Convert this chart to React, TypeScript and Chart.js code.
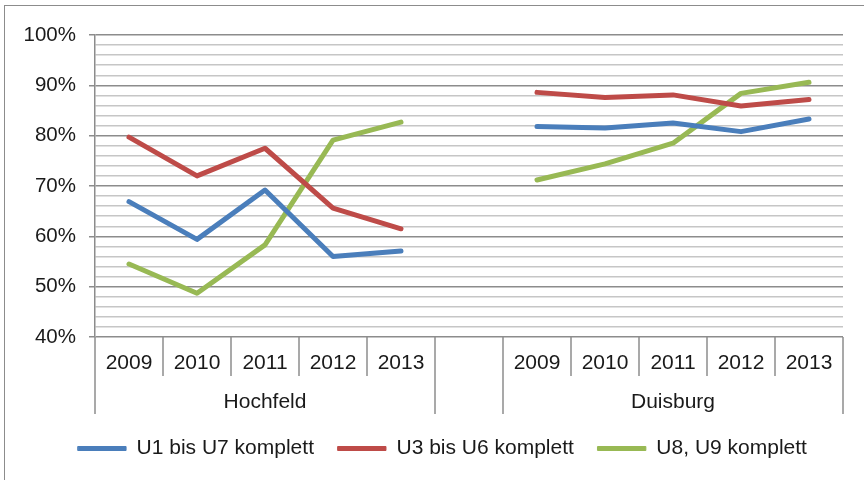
import React, { useEffect, useRef } from "react";
import { Chart, registerables } from "chart.js";

Chart.register(...registerables);

const years = ["2009", "2010", "2011", "2012", "2013"];
const groups = ["Hochfeld", "Duisburg"];
const categories = [...years, "", ...years];

const seriesNames = ["U1 bis U7 komplett", "U3 bis U6 komplett", "U8, U9 komplett"];
const u1u7 = [66.9, 59.4, 69.2, 56.0, 57.1, null, 81.8, 81.5, 82.5, 80.8, 83.3];
const u3u6 = [79.7, 72.0, 77.5, 65.6, 61.5, null, 88.6, 87.6, 88.1, 85.9, 87.2];
const u8u9 = [54.5, 48.7, 58.3, 79.1, 82.7, null, 71.2, 74.4, 78.5, 88.4, 90.6];
const seriesColors = ["#4a7ebb", "#be4b48", "#98b954"];

const yMin = 40;
const yMax = 100;
const yStep = 2;

const FONT = "'Liberation Sans', Arial, sans-serif";
const MAJOR = "#8c8c8c";
const MINOR = "#c6c6c6";
const TEXT = "#1a1a1a";

const groupAxisPlugin = {
  id: "groupAxis",
  afterDraw(chart: any) {
    const { ctx, chartArea } = chart;
    const x = chart.scales.x;
    const n = categories.length;
    const w = (x.right - x.left) / n;
    const bottom = chartArea.bottom;
    ctx.save();
    ctx.strokeStyle = MAJOR;
    ctx.lineWidth = 1.5;
    const groupEdges = [0, 5, 6, 11];
    for (let k = 0; k <= n; k++) {
      const px = x.left + k * w;
      const len = groupEdges.includes(k) ? 77 : 39;
      ctx.beginPath();
      ctx.moveTo(px, bottom);
      ctx.lineTo(px, bottom + len);
      ctx.stroke();
    }
    ctx.fillStyle = TEXT;
    ctx.font = `21px ${FONT}`;
    ctx.textAlign = "center";
    ctx.textBaseline = "middle";
    const spans = [
      [0, 5],
      [6, 11],
    ];
    spans.forEach((s, i) => {
      const cx = x.left + ((s[0] + s[1]) / 2) * w;
      ctx.fillText(groups[i], cx, bottom + 65);
    });
    ctx.restore();
  },
};

export default function App() {
  const ref = useRef<HTMLCanvasElement | null>(null);

  useEffect(() => {
    if (!ref.current) return;
    const data = [u1u7, u3u6, u8u9];
    const chart = new Chart(ref.current, {
      type: "line",
      data: {
        labels: categories,
        datasets: data.map((d, i) => ({
          label: seriesNames[i],
          data: d,
          borderColor: seriesColors[i],
          backgroundColor: seriesColors[i],
          borderWidth: 5,
          pointRadius: 0,
          tension: 0,
          spanGaps: false,
          borderCapStyle: "round",
          borderJoinStyle: "round",
          yAxisID: "y",
        })),
      },
      options: {
        responsive: false,
        animation: false,
        layout: { padding: { top: 35, right: 0, left: 21, bottom: 11 } },
        plugins: {
          tooltip: { enabled: false },
          legend: {
            position: "bottom",
            labels: {
              font: { family: FONT, size: 21 },
              color: TEXT,
              boxWidth: 48,
              boxHeight: 4,
              padding: 24,
              generateLabels: (c: any) =>
                Chart.defaults.plugins.legend.labels
                  .generateLabels(c)
                  .map((l: any, i: number) => ({
                    ...l,
                    lineWidth: 1,
                    fillStyle: seriesColors[i],
                    strokeStyle: seriesColors[i],
                  })),
            },
          },
        },
        scales: {
          x: {
            type: "category",
            offset: true,
            grid: { display: false },
            border: { display: false },
            ticks: {
              font: { family: FONT, size: 21 },
              color: TEXT,
              padding: 6,
              maxRotation: 0,
              autoSkip: false,
            },
            afterFit: (s: any) => {
              s.height = 77;
            },
          },
          y: {
            min: yMin,
            max: yMax,
            grid: {
              color: (c: any) => (c.tick && c.tick.value % 10 === 0 ? MAJOR : MINOR),
              tickColor: (c: any) => (c.tick && c.tick.value % 10 === 0 ? MAJOR : "rgba(0,0,0,0)"),
              lineWidth: 1.5,
              tickLength: 6,
            },
            border: { display: true, color: MAJOR, width: 1.5 },
            ticks: {
              stepSize: yStep,
              autoSkip: false,
              padding: 13,
              font: { family: FONT, size: 20.5 },
              color: TEXT,
              callback: (v: any) => (Number(v) % 10 === 0 ? `${v}%` : ""),
            },
            afterFit: (s: any) => {
              s.width = 74;
            },
          },
          yRight: {
            position: "right",
            min: yMin,
            max: yMax,
            grid: { display: false },
            border: { display: false },
            ticks: { display: false },
            afterFit: (s: any) => {
              s.width = 21;
            },
          },
        },
      },
      plugins: [groupAxisPlugin],
    });
    return () => chart.destroy();
  }, []);

  return (
    <div
      style={{
        position: "fixed",
        left: 0,
        top: 0,
        width: 864,
        height: 480,
        overflow: "hidden",
        background: "#fff",
      }}
    >
      <div
        style={{
          position: "absolute",
          left: 4,
          top: 5,
          width: 880,
          height: 500,
          border: "1.5px solid #8c8c8c",
        }}
      />
      <canvas ref={ref} width={864} height={480} style={{ position: "absolute", left: 0, top: 0 }} />
    </div>
  );
}
